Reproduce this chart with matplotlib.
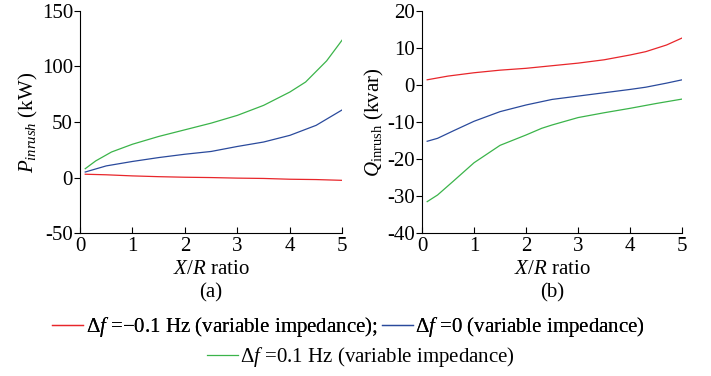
import matplotlib
matplotlib.use('Agg')
import matplotlib.pyplot as plt

plt.rcParams['font.family'] = 'Liberation Serif'
plt.rcParams['mathtext.fontset'] = 'custom'
plt.rcParams['mathtext.rm'] = 'Liberation Serif'
plt.rcParams['mathtext.it'] = 'Liberation Serif:italic'
plt.rcParams['mathtext.bf'] = 'Liberation Serif:bold'

# (a) active power inrush, kW
xa_red = [0.1, 0.5, 1.0, 1.5, 2.0, 2.5, 3.0, 3.5, 4.0, 4.5, 5.0]
pa_red = [3.0, 2.5, 1.5, 0.8, 0.3, 0.0, -0.5, -0.8, -1.5, -1.8, -2.5]
xa_blue = [0.1, 0.5, 1.0, 1.5, 2.0, 2.5, 3.0, 3.5, 4.0, 4.5, 5.0]
pa_blue = [5.0, 10.5, 14.5, 18.0, 21.0, 23.5, 28.0, 32.0, 38.0, 47.0, 61.0]
xa_green = [0.1, 0.3, 0.6, 1.0, 1.5, 2.0, 2.5, 3.0, 3.5, 4.0, 4.3, 4.7, 5.0]
pa_green = [8.0, 15.0, 23.0, 30.0, 37.0, 43.0, 49.0, 56.0, 65.0, 77.0, 86.0, 105.0, 124.0]

# (b) reactive power inrush, kvar
xb_red = [0.1, 0.5, 1.0, 1.5, 2.0, 2.5, 3.0, 3.5, 4.0, 4.3, 4.7, 5.0]
qb_red = [1.4, 2.4, 3.3, 4.0, 4.5, 5.2, 5.9, 6.8, 8.1, 9.0, 10.8, 12.7]
xb_blue = [0.1, 0.3, 0.6, 1.0, 1.5, 2.0, 2.5, 3.0, 3.5, 4.0, 4.3, 4.7, 5.0]
qb_blue = [-15.2, -14.4, -12.4, -9.8, -7.2, -5.4, -3.9, -3.0, -2.1, -1.2, -0.6, 0.5, 1.4]
xb_green = [0.1, 0.3, 0.6, 1.0, 1.5, 2.0, 2.3, 2.5, 3.0, 3.5, 4.0, 4.5, 5.0]
qb_green = [-31.5, -29.7, -26.0, -21.0, -16.3, -13.5, -11.7, -10.8, -8.8, -7.5, -6.3, -5.0, -3.8]

labels = [r'$\Delta f$ =$-$0.1 Hz (variable impedance);',
          r'$\Delta f$ =0 (variable impedance)',
          r'$\Delta f$ =0.1 Hz (variable impedance)']
colors = ['#e8262b', '#2a4a9c', '#3bb44a']

fig = plt.figure(figsize=(7.11, 3.76), dpi=100)
ax1 = fig.add_axes([0.1125, 0.380, 0.369, 0.591])
ax2 = fig.add_axes([0.5935, 0.380, 0.366, 0.591])

l1, = ax1.plot(xa_red, pa_red, color=colors[0], lw=0.9)
l2, = ax1.plot(xa_blue, pa_blue, color=colors[1], lw=0.9)
l3, = ax1.plot(xa_green, pa_green, color=colors[2], lw=0.9)
ax1.set_xlim(0, 5)
ax1.set_ylim(-50, 150)
ax1.set_yticks([-50, 0, 50, 100, 150])
ax1.set_yticklabels(['-50', '0', '50', '100', '150'])
ax1.set_ylabel(r'$P_{inrush}$ (kW)', fontsize=15, labelpad=1)

ax2.plot(xb_red, qb_red, color=colors[0], lw=0.9)
ax2.plot(xb_blue, qb_blue, color=colors[1], lw=0.9)
ax2.plot(xb_green, qb_green, color=colors[2], lw=0.9)
ax2.set_xlim(0, 5)
ax2.set_ylim(-40, 20)
ax2.set_yticks([-40, -30, -20, -10, 0, 10, 20])
ax2.set_yticklabels(['-40', '-30', '-20', '-10', '0', '10', '20'])
ax2.set_ylabel(r'$Q_{\mathrm{inrush}}$ (kvar)', fontsize=15, labelpad=1)

for ax, tag in [(ax1, '(a)'), (ax2, '(b)')]:
    ax.spines['top'].set_visible(False)
    ax.spines['right'].set_visible(False)
    ax.spines['left'].set_linewidth(0.8)
    ax.spines['bottom'].set_linewidth(0.8)
    ax.set_xticks([0, 1, 2, 3, 4, 5])
    ax.tick_params(axis='y', direction='out', length=4, width=0.8, labelsize=15, pad=1)
    ax.tick_params(axis='x', direction='in', length=4, width=0.8, labelsize=15, pad=3)
    ax.set_xlabel('$X/R$ ratio' + '\n' + tag, fontsize=15, labelpad=3, linespacing=1.25)

leg1 = fig.legend([l1, l2], labels[:2], loc='center', bbox_to_anchor=(0.49, 0.13),
                  ncol=2, frameon=False, fontsize=15, handlelength=1.5,
                  handletextpad=0.1, columnspacing=0.2, borderpad=0)
fig.add_artist(leg1)
fig.legend([l3], labels[2:], loc='center', bbox_to_anchor=(0.508, 0.05),
           frameon=False, fontsize=15, handlelength=1.5, handletextpad=0.1, borderpad=0)

fig.savefig('out.png', dpi=100)
